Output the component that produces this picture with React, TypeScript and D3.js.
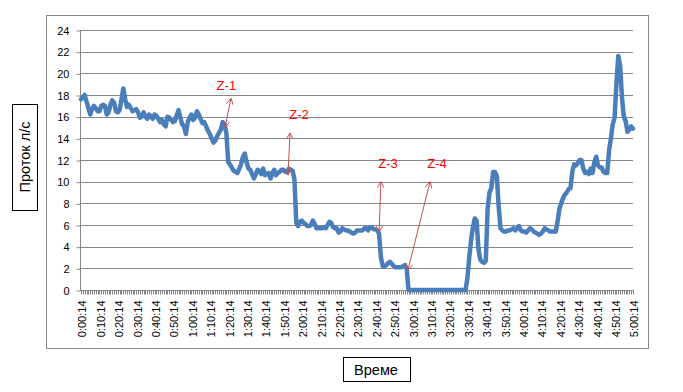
import React, { useEffect, useRef } from "react";
import * as d3 from "d3";

// one reading per minute, 0:00:14 .. 5:00:14
const flow: number[] = [
  17.6, 17.8, 18.0, 17.4, 16.8, 16.2, 16.7, 17.0, 16.8, 16.5,
  16.5, 17.0, 17.1, 17.0, 16.2, 16.4, 17.1, 17.5, 17.3, 16.5,
  16.4, 16.6, 17.6, 18.6, 17.6, 16.9, 17.1, 16.8, 16.5, 16.6,
  16.7, 16.4, 15.9, 16.0, 16.4, 16.0, 15.8, 16.2, 16.0, 15.8,
  16.2, 16.1, 15.8, 15.5, 15.7, 15.3, 15.1, 16.0, 15.9, 15.7,
  15.5, 15.6, 16.1, 16.6, 15.9, 15.3, 15.1, 14.4, 15.5, 15.9,
  16.2, 15.7, 15.9, 16.5, 16.2, 15.8, 15.4, 15.5, 15.1, 14.7,
  14.4, 14.0, 13.6, 13.8, 14.2, 14.5, 14.8, 15.5, 15.3, 14.5,
  11.8, 11.6, 11.3, 11.0, 10.9, 10.8, 11.2, 11.6, 12.3, 12.6,
  11.8, 11.2, 11.1, 10.7, 10.3, 10.7, 11.1, 11.0, 10.7, 11.2,
  10.6, 10.7, 10.8, 10.3, 10.8, 11.1, 10.6, 10.8, 10.9, 11.1,
  11.1, 10.9, 10.9, 11.2, 11.1, 11.0, 10.2, 6.2, 5.9, 6.3,
  6.4, 6.2, 6.1, 5.9, 5.9, 6.0, 6.4, 6.1, 5.7, 5.7,
  5.7, 5.7, 5.8, 5.7, 6.0, 6.3, 6.2, 5.8, 5.7, 5.7,
  5.3, 5.4, 5.7, 5.6, 5.5, 5.5, 5.4, 5.3, 5.2, 5.3,
  5.5, 5.5, 5.5, 5.5, 5.7, 5.7, 5.5, 5.8, 5.8, 5.6,
  5.6, 5.5, 5.2, 3.0, 2.2, 2.2, 2.3, 2.5, 2.6, 2.4,
  2.2, 2.1, 2.1, 2.1, 2.1, 2.2, 2.3, 2.0, 0, 0,
  0, 0, 0, 0, 0, 0, 0, 0, 0, 0,
  0, 0, 0, 0, 0, 0, 0, 0, 0, 0,
  0, 0, 0, 0, 0, 0, 0, 0, 0, 0,
  1.1, 3.0, 4.6, 5.8, 6.6, 6.4, 3.8, 2.8, 2.6, 2.5,
  2.7, 7.5, 9.0, 9.4, 10.9, 10.9, 10.5, 7.7, 5.7, 5.5,
  5.4, 5.4, 5.5, 5.5, 5.6, 5.7, 5.5, 5.7, 5.9, 5.5,
  5.4, 5.4, 5.3, 5.5, 5.7, 5.6, 5.4, 5.3, 5.2, 5.1,
  5.2, 5.4, 5.7, 5.6, 5.5, 5.4, 5.4, 5.4, 5.4, 6.3,
  7.5, 8.0, 8.5, 8.8, 9.0, 9.3, 9.4, 10.9, 11.6, 11.5,
  11.7, 12.0, 12.0, 11.2, 10.8, 10.9, 10.7, 11.2, 10.8, 11.8,
  12.3, 11.5, 11.3, 11.3, 10.9, 10.8, 10.8, 12.9, 14.0, 15.3,
  15.9, 19.1, 21.6, 20.7, 17.8, 16.0, 15.6, 14.6, 14.8, 15.1,
  14.9,
];

const timeLabels = [
  "0:00:14", "0:10:14", "0:20:14", "0:30:14", "0:40:14", "0:50:14",
  "1:00:14", "1:10:14", "1:20:14", "1:30:14", "1:40:14", "1:50:14",
  "2:00:14", "2:10:14", "2:20:14", "2:30:14", "2:40:14", "2:50:14",
  "3:00:14", "3:10:14", "3:20:14", "3:30:14", "3:40:14", "3:50:14",
  "4:00:14", "4:10:14", "4:20:14", "4:30:14", "4:40:14", "4:50:14",
  "5:00:14",
];

const yTicks = [0, 2, 4, 6, 8, 10, 12, 14, 16, 18, 20, 22, 24];

// zones: label position and arrow ends, in (minute, flow) units
const zoneNames = ["Z-1", "Z-2", "Z-3", "Z-4"];
const zoneLabelAt = [[79, 18.9], [118.5, 16.2], [166.8, 11.7], [193.5, 11.7]];
const zoneArrowFrom = [[81.5, 17.7], [113.6, 14.5], [163, 10.0], [189.7, 10.0]];
const zoneArrowTo = [[78.3, 15.0], [112.5, 10.6], [162, 5.35], [177.7, 1.85]];

const W = 683;
const H = 392;
const FONT = "'Liberation Sans', Arial, sans-serif";

export default function App() {
  const ref = useRef<SVGSVGElement>(null);

  useEffect(() => {
    const svg = d3.select(ref.current);
    svg.selectAll("*").remove();

    const x = d3.scaleLinear().domain([0, flow.length - 1]).range([81, 633]);
    const y = d3.scaleLinear().domain([0, 24]).range([290, 30]);
    const grey = "#868686";

    svg.append("rect").attr("width", W).attr("height", H).attr("fill", "white");

    // outer chart frame
    svg
      .append("rect")
      .attr("x", 46.5)
      .attr("y", 15.5)
      .attr("width", 602)
      .attr("height", 333)
      .attr("fill", "none")
      .attr("stroke", grey);

    // horizontal gridlines
    svg
      .append("g")
      .selectAll("line")
      .data(yTicks.filter((d) => d > 0))
      .enter()
      .append("line")
      .attr("x1", x(0) - 1)
      .attr("x2", x(flow.length - 1))
      .attr("y1", (d) => Math.round(y(d)) + 0.5)
      .attr("y2", (d) => Math.round(y(d)) + 0.5)
      .attr("stroke", grey);

    // y axis
    const yAxis = svg
      .append("g")
      .attr("transform", `translate(${x(0) - 0.5},0.5)`)
      .call(d3.axisLeft(y).tickValues(yTicks).tickSize(4).tickPadding(7));
    yAxis.select(".domain").attr("stroke", grey).attr("d", `M0,${y(24)}V${y(0)}`);
    yAxis.selectAll(".tick line").attr("stroke", grey);
    yAxis
      .selectAll(".tick text")
      .attr("font-family", FONT)
      .attr("font-size", 11)
      .attr("fill", "black");

    // x axis: a tick for every minute, a label every ten
    const xAxis = svg
      .append("g")
      .attr("transform", `translate(0,${Math.round(y(0)) + 0.5})`);
    xAxis
      .append("line")
      .attr("x1", x(0) - 1)
      .attr("x2", x(flow.length - 1))
      .attr("stroke", grey);
    xAxis
      .selectAll("line.tk")
      .data(d3.range(flow.length))
      .enter()
      .append("line")
      .attr("class", "tk")
      .attr("x1", (d) => Math.round(x(d)) + 0.5)
      .attr("x2", (d) => Math.round(x(d)) + 0.5)
      .attr("y1", 0)
      .attr("y2", 4)
      .attr("stroke", grey);
    xAxis
      .selectAll("text")
      .data(timeLabels)
      .enter()
      .append("text")
      .attr("transform", (d, i) => `translate(${x(i * 10) + 1.5},10) rotate(-90)`)
      .attr("text-anchor", "end")
      .attr("dy", "0.35em")
      .attr("font-family", FONT)
      .attr("font-size", 11)
      .attr("fill", "black")
      .text((d) => d);

    // the flow line
    const line = d3
      .line<number>()
      .x((d, i) => x(i))
      .y((d) => y(d));
    svg
      .append("path")
      .datum(flow)
      .attr("d", line)
      .attr("fill", "none")
      .attr("stroke", "#4a7ebb")
      .attr("stroke-width", 4.5)
      .attr("stroke-linejoin", "round")
      .attr("stroke-linecap", "round");

    // arrows
    const defs = svg.append("defs");
    defs
      .append("marker")
      .attr("id", "head")
      .attr("viewBox", "0 0 10 10")
      .attr("refX", 9)
      .attr("refY", 5)
      .attr("markerWidth", 7)
      .attr("markerHeight", 7)
      .attr("markerUnits", "userSpaceOnUse")
      .attr("orient", "auto-start-reverse")
      .append("path")
      .attr("d", "M0,0L9,5L0,10")
      .attr("fill", "none")
      .attr("stroke", "#c0504d")
      .attr("stroke-width", 1.3);

    const zones = svg.append("g");
    zoneNames.forEach((name, i) => {
      zones
        .append("line")
        .attr("x1", x(zoneArrowFrom[i][0]))
        .attr("y1", y(zoneArrowFrom[i][1]))
        .attr("x2", x(zoneArrowTo[i][0]))
        .attr("y2", y(zoneArrowTo[i][1]))
        .attr("stroke", "#c0504d")
        .attr("stroke-width", 1)
        .attr("marker-start", "url(#head)")
        .attr("marker-end", "url(#head)");
      zones
        .append("text")
        .attr("x", x(zoneLabelAt[i][0]))
        .attr("y", y(zoneLabelAt[i][1]))
        .attr("dy", "0.35em")
        .attr("text-anchor", "middle")
        .attr("font-family", FONT)
        .attr("font-size", 13)
        .attr("fill", "#ff0000")
        .text(name);
    });

    // axis titles in boxes
    const yTitle = svg.append("g");
    yTitle
      .append("rect")
      .attr("x", 12.5)
      .attr("y", 104.5)
      .attr("width", 25)
      .attr("height", 106)
      .attr("fill", "white")
      .attr("stroke", "black");
    yTitle
      .append("text")
      .attr("transform", "translate(25,157) rotate(-90)")
      .attr("text-anchor", "middle")
      .attr("dy", "0.35em")
      .attr("font-family", FONT)
      .attr("font-size", 14.5)
      .attr("fill", "black")
      .text("Проток л/с");

    const xTitle = svg.append("g");
    xTitle
      .append("rect")
      .attr("x", 343.5)
      .attr("y", 357.5)
      .attr("width", 67)
      .attr("height", 24)
      .attr("fill", "white")
      .attr("stroke", "black");
    xTitle
      .append("text")
      .attr("x", 376)
      .attr("y", 369.5)
      .attr("text-anchor", "middle")
      .attr("dy", "0.35em")
      .attr("font-family", FONT)
      .attr("font-size", 14.5)
      .attr("fill", "black")
      .text("Време");
  }, []);

  return (
    <svg
      ref={ref}
      width={W}
      height={H}
      style={{ position: "absolute", left: 0, top: 0, display: "block" }}
    />
  );
}
